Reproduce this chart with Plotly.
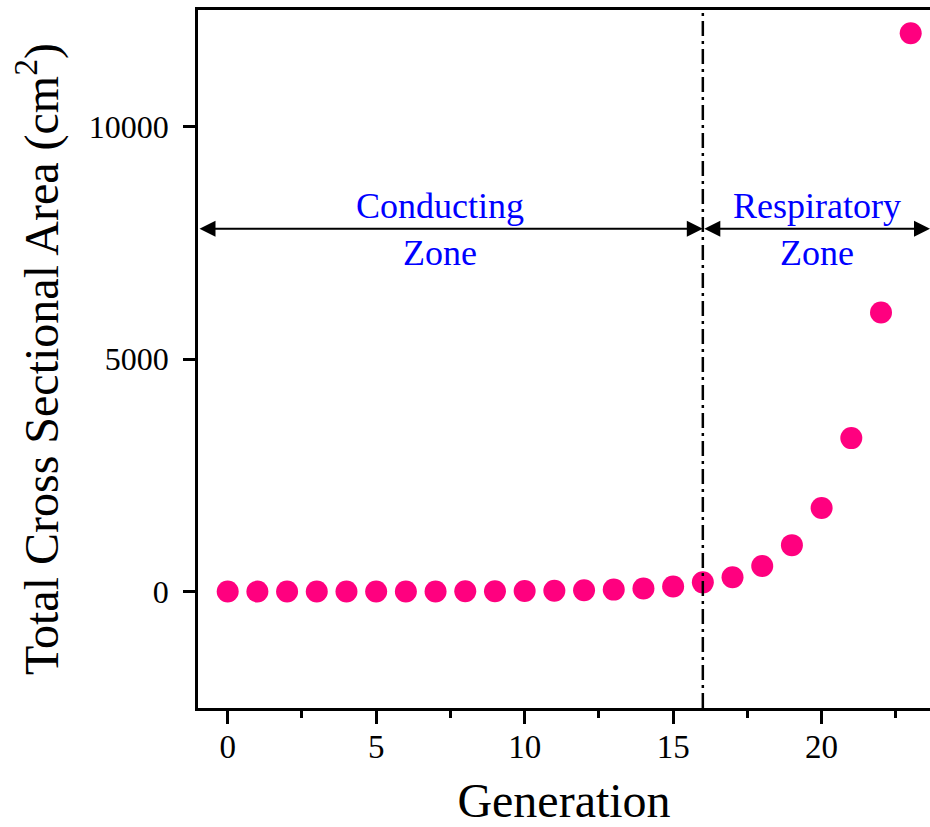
import plotly.graph_objects as go

# Airway generation vs. total cross-sectional area (cm^2)
generation = list(range(24))
area_cm2 = [2.5, 2.3, 2.1, 2.0, 2.5, 3.1, 4.0, 5.1, 7.0, 9.6, 13.4, 19.6,
            28.8, 44.5, 69.4, 110, 200, 310, 550, 1000, 1800, 3300, 6000, 12000]

zone_boundary = 16          # generation where the respiratory zone starts
zone_arrow_y = 7800         # height of the zone arrows (data units)
x_range = [-1, 23.65]
y_range = [-2500, 12500]
y_ticks = [0, 5000, 10000]
y_tick_text = ["0", "5000", "10000"]
x_ticks = [0, 5, 10, 15, 20]

serif = "Liberation Serif, Times New Roman, serif"
pink = "#FF007F"
blue = "#0000FF"
axis_w = 2.5

fig = go.Figure()

fig.add_trace(go.Scatter(
    x=generation, y=area_cm2, mode="markers",
    marker=dict(size=22, color=pink, line=dict(width=0)),
    showlegend=False, cliponaxis=False,
))

# dash-dot boundary between the two zones
fig.add_shape(type="line", xref="x", yref="paper",
              x0=zone_boundary, x1=zone_boundary, y0=0, y1=1,
              line=dict(color="black", width=2.5, dash="15px,5px,3px,5px"))

# double-headed arrows spanning each zone
def zone_arrow(x0, x1):
    fig.add_annotation(
        x=x1, y=zone_arrow_y, ax=x0, ay=zone_arrow_y,
        xref="x", yref="y", axref="x", ayref="y",
        text="", showarrow=True,
        arrowhead=2, startarrowhead=2, arrowside="end+start",
        arrowsize=1.6, startarrowsize=1.6, arrowwidth=2, arrowcolor="black",
    )

zone_arrow(x_range[0], zone_boundary)
zone_arrow(zone_boundary, x_range[1])

zone_font = dict(family=serif, size=36, color=blue)
fig.add_annotation(x=7.15, y=zone_arrow_y,
                   xref="x", yref="y", text="Conducting<br>Zone", showarrow=False,
                   font=zone_font, align="center", yshift=-1)
fig.add_annotation(x=19.85, y=zone_arrow_y,
                   xref="x", yref="y", text="Respiratory<br>Zone", showarrow=False,
                   font=zone_font, align="center", yshift=-1)

fig.update_layout(
    width=930, height=827,
    margin=dict(l=198, r=0, t=10, b=119),
    paper_bgcolor="white", plot_bgcolor="white",
    font=dict(family=serif, color="black"),
    xaxis=dict(
        range=x_range, tickvals=x_ticks, ticks="outside", ticklen=13, tickwidth=axis_w,
        tickcolor="black", showline=True, linewidth=axis_w, linecolor="black", mirror=True,
        showgrid=False, zeroline=False, ticklabelstandoff=-5,
        tickfont=dict(family=serif, size=33, color="black"),
        minor=dict(tickvals=[2.5, 7.5, 12.5, 17.5, 22.5], ticks="outside",
                   ticklen=7, tickwidth=axis_w, tickcolor="black", showgrid=False),
        title=dict(text="Generation", font=dict(family=serif, size=48, color="black"),
                   standoff=26),
    ),
    yaxis=dict(
        range=y_range, tickvals=y_ticks, ticktext=y_tick_text, ticks="outside",
        ticklen=12, tickwidth=axis_w,
        tickcolor="black", showline=True, linewidth=axis_w, linecolor="black",
        showgrid=False, zeroline=False, ticklabelstandoff=8,
        tickfont=dict(family=serif, size=32, color="black"),
        title=dict(text="Total Cross Sectional Area (cm<sup>2</sup>)",
                   font=dict(family=serif, size=48, color="black"), standoff=16),
    ),
)

fig.write_html("out.html")
